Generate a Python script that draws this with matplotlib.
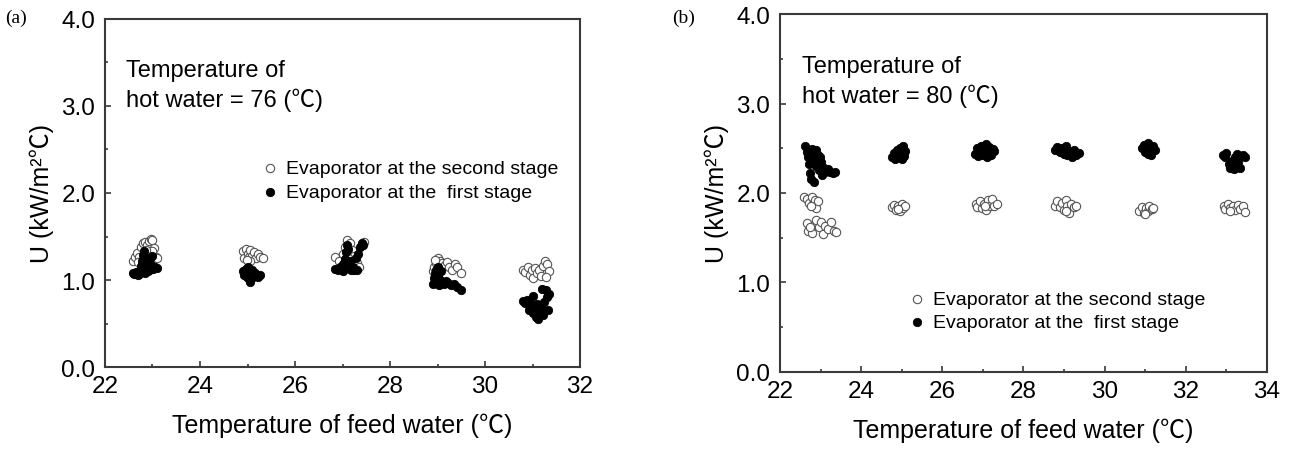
import numpy as np
import matplotlib.pyplot as plt
from matplotlib.ticker import MultipleLocator

plt.rcParams['font.family'] = ['Liberation Sans', 'Noto Sans CJK JP']

# ---- panel (a): hot water 76 C ----
a_open_x = [22.58, 22.63, 22.68, 22.72, 22.76, 22.80, 22.84, 22.88, 22.92, 22.96, 23.00, 23.04, 23.08, 22.98, 22.70, 23.10, 22.86,
            24.90, 24.93, 24.96, 25.00, 25.03, 25.06, 25.10, 25.14, 25.18, 25.22, 25.27, 25.32, 25.05, 24.98,
            26.85, 26.92, 27.00, 27.05, 27.10, 27.15, 27.20, 27.25, 27.30, 27.35, 27.40, 27.46, 27.12,
            28.90, 28.93, 28.96, 29.00, 29.02, 29.05, 29.10, 29.15, 29.20, 29.25, 29.30, 29.36, 29.42, 29.50, 28.95,
            30.80, 30.85, 30.90, 30.94, 30.98, 31.02, 31.06, 31.10, 31.14, 31.18, 31.22, 31.26, 31.30, 31.34, 31.28]
a_open_y = [1.22, 1.27, 1.31, 1.26, 1.38, 1.43, 1.44, 1.40, 1.45, 1.47, 1.46, 1.37, 1.27, 1.33, 1.21, 1.25, 1.34,
            1.33, 1.25, 1.36, 1.30, 1.26, 1.34, 1.28, 1.32, 1.25, 1.30, 1.27, 1.25, 1.22, 1.23,
            1.27, 1.22, 1.30, 1.38, 1.46, 1.42, 1.35, 1.28, 1.20, 1.15, 1.40, 1.44, 1.25,
            1.10, 1.15, 1.20, 1.25, 1.18, 1.22, 1.20, 1.17, 1.21, 1.15, 1.12, 1.18, 1.15, 1.08, 1.23,
            1.12, 1.09, 1.15, 1.06, 1.12, 1.02, 1.14, 1.08, 1.12, 1.05, 1.16, 1.22, 1.18, 1.10, 1.04]
a_fill_x = [22.58, 22.62, 22.66, 22.70, 22.74, 22.76, 22.78, 22.80, 22.82, 22.84, 22.86, 22.88, 22.90, 22.94, 22.96, 23.00, 23.02, 23.06, 23.10, 22.72, 22.92,
            24.90, 24.93, 24.96, 24.98, 25.00, 25.02, 25.04, 25.06, 25.08, 25.10, 25.12, 25.15, 25.18, 25.22, 25.26, 25.05,
            26.85, 26.90, 26.95, 27.00, 27.02, 27.05, 27.08, 27.10, 27.12, 27.15, 27.18, 27.22, 27.25, 27.28, 27.32, 27.36, 27.40, 27.44, 27.30, 27.06,
            28.90, 28.92, 28.94, 28.96, 28.98, 29.00, 29.02, 29.04, 29.06, 29.08, 29.10, 29.14, 29.18, 29.22, 29.28, 29.34, 29.40, 29.50, 28.98,
            30.80, 30.84, 30.88, 30.92, 30.96, 31.00, 31.02, 31.05, 31.08, 31.12, 31.15, 31.18, 31.22, 31.25, 31.28, 31.30, 31.32, 31.34, 31.20, 31.10]
a_fill_y = [1.08, 1.07, 1.09, 1.06, 1.11, 1.16, 1.22, 1.29, 1.33, 1.08, 1.14, 1.20, 1.10, 1.25, 1.17, 1.28, 1.13, 1.15, 1.14, 1.07, 1.12,
            1.10, 1.06, 1.13, 1.04, 1.09, 1.15, 1.01, 0.98, 1.07, 1.12, 1.03, 1.08, 1.05, 1.04, 1.06, 1.12,
            1.13, 1.11, 1.15, 1.10, 1.18, 1.24, 1.32, 1.40, 1.36, 1.22, 1.12, 1.15, 1.11, 1.25, 1.30, 1.38, 1.43, 1.40, 1.12, 1.14,
            0.95, 1.02, 1.08, 1.12, 0.98, 1.15, 1.05, 0.94, 1.00, 1.10, 0.97, 0.95, 0.99, 0.96, 0.94, 0.95, 0.92, 0.88, 1.04,
            0.76, 0.74, 0.77, 0.65, 0.72, 0.62, 0.82, 0.68, 0.58, 0.55, 0.63, 0.70, 0.60, 0.75, 0.88, 0.80, 0.66, 0.84, 0.90, 0.72]

# ---- panel (b): hot water 80 C ----
b_open_x = [22.60, 22.66, 22.72, 22.78, 22.82, 22.86, 22.90, 22.94, 22.76,
            22.66, 22.70, 22.78, 22.84, 22.90, 22.96, 23.02, 23.06, 23.12, 23.18, 23.26, 23.32, 23.38, 22.74,
            24.76, 24.82, 24.86, 24.92, 24.96, 25.00, 25.04, 25.08, 24.90,
            26.82, 26.86, 26.92, 26.98, 27.02, 27.08, 27.12, 27.18, 27.22, 27.28, 27.34, 27.05,
            28.78, 28.84, 28.90, 28.96, 29.00, 29.04, 29.08, 29.12, 29.18, 29.24, 29.30, 29.06,
            30.86, 30.92, 30.96, 31.02, 31.06, 31.10, 31.16, 31.20, 31.00,
            32.94, 32.98, 33.04, 33.10, 33.16, 33.22, 33.28, 33.34, 33.40, 33.46, 33.08]
b_open_y = [1.96, 1.93, 1.89, 1.95, 1.88, 1.92, 1.83, 1.91, 1.85,
            1.67, 1.58, 1.55, 1.64, 1.70, 1.62, 1.68, 1.54, 1.63, 1.60, 1.68, 1.57, 1.56, 1.62,
            1.84, 1.87, 1.81, 1.86, 1.80, 1.88, 1.83, 1.85, 1.82,
            1.88, 1.84, 1.91, 1.83, 1.88, 1.81, 1.92, 1.86, 1.93, 1.85, 1.88, 1.85,
            1.86, 1.91, 1.84, 1.89, 1.81, 1.92, 1.85, 1.78, 1.88, 1.84, 1.86, 1.80,
            1.80, 1.84, 1.78, 1.83, 1.80, 1.85, 1.82, 1.83, 1.77,
            1.85, 1.82, 1.88, 1.83, 1.86, 1.81, 1.87, 1.82, 1.85, 1.79, 1.80]
b_fill_x = [22.62, 22.66, 22.70, 22.72, 22.74, 22.76, 22.78, 22.80, 22.82, 22.85, 22.88, 22.90, 22.93, 22.96, 23.00, 23.04, 23.08, 23.12, 23.18, 23.24, 23.30, 23.36, 22.98,
            24.75, 24.80, 24.84, 24.88, 24.92, 24.96, 25.00, 25.04, 25.08, 25.02, 24.86, 24.94, 25.06,
            26.80, 26.85, 26.88, 26.92, 26.96, 27.00, 27.04, 27.08, 27.12, 27.16, 27.20, 27.24, 27.28, 26.98, 27.10,
            28.78, 28.84, 28.90, 28.96, 29.00, 29.04, 29.08, 29.12, 29.18, 29.24, 29.30, 29.36, 29.06, 29.20,
            30.92, 30.96, 31.00, 31.04, 31.08, 31.12, 31.16, 31.20, 31.24, 31.06, 31.14,
            32.92, 32.96, 33.00, 33.06, 33.10, 33.14, 33.18, 33.22, 33.26, 33.30, 33.34, 33.40, 33.46, 33.20]
b_fill_y = [2.52, 2.46, 2.40, 2.32, 2.22, 2.16, 2.44, 2.49, 2.38, 2.12, 2.48, 2.30, 2.42, 2.26, 2.35, 2.20, 2.28, 2.23, 2.27, 2.24, 2.22, 2.23, 2.40,
            2.40, 2.45, 2.38, 2.48, 2.42, 2.50, 2.44, 2.52, 2.47, 2.38, 2.43, 2.46, 2.41,
            2.44, 2.50, 2.41, 2.47, 2.53, 2.42, 2.49, 2.55, 2.45, 2.51, 2.43, 2.49, 2.47, 2.46, 2.40,
            2.48, 2.51, 2.46, 2.50, 2.44, 2.49, 2.42, 2.47, 2.44, 2.48, 2.42, 2.45, 2.52, 2.40,
            2.50, 2.54, 2.46, 2.52, 2.44, 2.50, 2.47, 2.52, 2.48, 2.56, 2.43,
            2.43, 2.40, 2.45, 2.32, 2.28, 2.36, 2.30, 2.40, 2.44, 2.35, 2.28, 2.42, 2.40, 2.27]

labels = ['Evaporator at the second stage', 'Evaporator at the  first stage']
frame = '#3a3a3a'

fig = plt.figure(figsize=(12.93, 4.52), dpi=100)
ax1 = fig.add_axes([0.0812, 0.1858, 0.3674, 0.770])
ax2 = fig.add_axes([0.6032, 0.1748, 0.3766, 0.792])


def style(ax, xmax, note, leg_anchor):
    ax.set_xlim(22, xmax)
    ax.set_ylim(0, 4)
    ax.xaxis.set_major_locator(MultipleLocator(2))
    ax.xaxis.set_minor_locator(MultipleLocator(1))
    ax.yaxis.set_major_locator(MultipleLocator(1))
    ax.yaxis.set_minor_locator(MultipleLocator(0.5))
    ax.yaxis.set_major_formatter(plt.FormatStrFormatter('%.1f'))
    ax.tick_params(which='major', direction='in', length=4, width=1.2, color=frame, labelsize=17.5)
    ax.tick_params(axis='x', which='major', pad=6)
    ax.tick_params(axis='y', which='major', pad=7)
    ax.tick_params(which='minor', direction='in', length=2.5, width=1.2, color=frame)
    for s in ax.spines.values():
        s.set_color(frame)
        s.set_linewidth(1.5)
    ax.set_xlabel('Temperature of feed water (℃)', fontsize=18, labelpad=11)
    ax.set_ylabel('U (kW/m²℃)', fontsize=18, labelpad=5)
    ax.text(0.045, 0.885, note, transform=ax.transAxes, fontsize=17, va='top', linespacing=1.35)
    ax.legend(labels, loc='upper left', bbox_to_anchor=leg_anchor, frameon=False, fontsize=14,
              handletextpad=0.35, labelspacing=0.3, handlelength=1.0, borderaxespad=0)


ax1.scatter(a_open_x, a_open_y, s=36, facecolors='white', edgecolors='#555555', linewidths=0.8)
ax1.scatter(a_fill_x, a_fill_y, s=36, facecolors='black', edgecolors='black', linewidths=0.6)
style(ax1, 32, 'Temperature of\nhot water = 76 (℃)', (0.31, 0.618))

ax2.scatter(b_open_x, b_open_y, s=36, facecolors='white', edgecolors='#555555', linewidths=0.8)
ax2.scatter(b_fill_x, b_fill_y, s=36, facecolors='black', edgecolors='black', linewidths=0.6)
style(ax2, 34, 'Temperature of\nhot water = 80 (℃)', (0.245, 0.25))

fig.text(0.004, 0.96, '(a)', family='Liberation Serif', fontsize=14, va='center')
fig.text(0.52, 0.96, '(b)', family='Liberation Serif', fontsize=14, va='center')

fig.savefig('out.png', dpi=100)
